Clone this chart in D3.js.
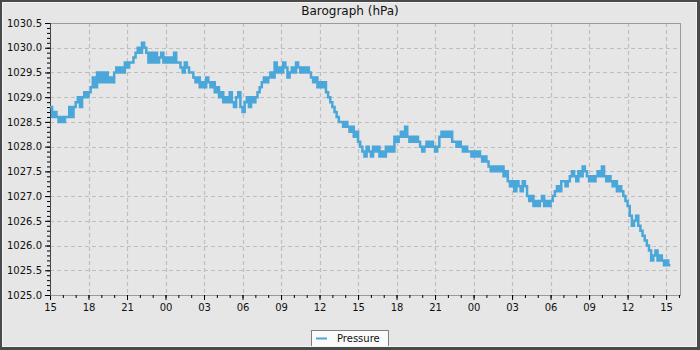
<!DOCTYPE html>
<html>
<head>
<meta charset="utf-8">
<script src="https://cdn.jsdelivr.net/npm/d3@7"></script>
<style>
body { margin: 0; background: #e6e6e6; }
svg { display: block; font-family: "DejaVu Sans", sans-serif; }
</style>
</head>
<body>
<div id="chart"></div>
<script>
// barometer readings, one every 10 minutes from 15:00
let startTime = new Date(2023, 4, 1, 15, 0);
let endTime = new Date(2023, 4, 3, 16, 5);
let stepMinutes = 10;

let pressure = [
    1028.8, 1028.6, 1028.7, 1028.6, 1028.5, 1028.6,   // 15h
    1028.5, 1028.6, 1028.6, 1028.8, 1028.6, 1028.8,
    1028.9, 1029.0, 1028.8, 1029.0, 1029.1, 1029.0,
    1029.1, 1029.2, 1029.4, 1029.2, 1029.5, 1029.3,   // 18h
    1029.5, 1029.3, 1029.5, 1029.3, 1029.4, 1029.3,
    1029.5, 1029.6, 1029.5, 1029.6, 1029.5, 1029.7,
    1029.6, 1029.7, 1029.7, 1029.8, 1029.9, 1030.0,   // 21h
    1029.9, 1030.1, 1030.0, 1029.9, 1029.7, 1029.9,
    1029.7, 1029.9, 1029.7, 1029.8, 1029.9, 1029.7,
    1029.8, 1029.7, 1029.8, 1029.7, 1029.9, 1029.7,   // 00h
    1029.7, 1029.6, 1029.5, 1029.7, 1029.6, 1029.5,
    1029.5, 1029.4, 1029.3, 1029.4, 1029.2, 1029.3,
    1029.2, 1029.4, 1029.3, 1029.2, 1029.3, 1029.1,   // 03h
    1029.2, 1029.0, 1029.1, 1028.9, 1029.0, 1028.9,
    1029.1, 1028.9, 1028.8, 1029.0, 1029.1, 1028.8,
    1028.7, 1028.9, 1029.0, 1028.8, 1029.0, 1028.9,   // 06h
    1029.0, 1029.1, 1029.2, 1029.3, 1029.4, 1029.3,
    1029.4, 1029.5, 1029.4, 1029.7, 1029.5, 1029.6,
    1029.5, 1029.7, 1029.6, 1029.4, 1029.5, 1029.6,   // 09h
    1029.5, 1029.7, 1029.6, 1029.5, 1029.6, 1029.5,
    1029.6, 1029.5, 1029.4, 1029.3, 1029.4, 1029.2,
    1029.3, 1029.2, 1029.3, 1029.1, 1029.0, 1028.9,   // 12h
    1028.8, 1028.7, 1028.6, 1028.5, 1028.5, 1028.4,
    1028.5, 1028.4, 1028.3, 1028.4, 1028.2, 1028.3,
    1028.1, 1028.0, 1027.9, 1027.8, 1028.0, 1027.9,   // 15h
    1027.8, 1028.0, 1027.9, 1028.0, 1027.8, 1027.9,
    1027.8, 1028.0, 1027.9, 1028.0, 1027.9, 1028.2,
    1028.1, 1028.2, 1028.3, 1028.2, 1028.4, 1028.2,   // 18h
    1028.1, 1028.2, 1028.1, 1028.2, 1028.1, 1028.0,
    1027.9, 1028.0, 1028.1, 1028.0, 1028.1, 1028.0,
    1027.9, 1028.0, 1028.2, 1028.3, 1028.2, 1028.3,   // 21h
    1028.2, 1028.3, 1028.1, 1028.1, 1028.0, 1028.1,
    1028.0, 1027.9, 1028.0, 1027.9, 1027.9, 1027.8,
    1027.9, 1027.8, 1027.9, 1027.8, 1027.7, 1027.8,   // 00h
    1027.7, 1027.6, 1027.5, 1027.6, 1027.5, 1027.6,
    1027.5, 1027.6, 1027.4, 1027.5, 1027.3, 1027.2,
    1027.3, 1027.1, 1027.3, 1027.2, 1027.1, 1027.3,   // 03h
    1027.2, 1027.0, 1026.9, 1027.0, 1026.8, 1026.9,
    1026.8, 1026.9, 1027.0, 1026.8, 1026.9, 1026.8,
    1026.9, 1027.0, 1027.1, 1027.2, 1027.1, 1027.3,   // 06h
    1027.3, 1027.2, 1027.3, 1027.4, 1027.5, 1027.4,
    1027.3, 1027.5, 1027.4, 1027.6, 1027.5, 1027.4,
    1027.3, 1027.4, 1027.3, 1027.4, 1027.5, 1027.4,   // 09h
    1027.6, 1027.4, 1027.3, 1027.4, 1027.3, 1027.2,
    1027.3, 1027.1, 1027.2, 1027.1, 1027.0, 1026.9,
    1026.8, 1026.6, 1026.4, 1026.5, 1026.6, 1026.4,   // 12h
    1026.3, 1026.2, 1026.1, 1026.0, 1025.9, 1025.7,
    1025.8, 1025.9, 1025.7, 1025.8, 1025.7, 1025.6,
    1025.7, 1025.6, 1025.6                            // 15h
];

let yTicks = [1025.0, 1025.5, 1026.0, 1026.5, 1027.0, 1027.5, 1028.0, 1028.5, 1029.0, 1029.5, 1030.0, 1030.5];
let chartTitle = "Barograph (hPa)";
let seriesName = "Pressure";

let width = 700,
    height = 350;
let plotLeft = 50, plotRight = 680, plotTop = 23, plotBottom = 295;
let lineColor = "#4ba6d9";
let gridColor = "#bfbfbf";

let data = pressure.map((v, i) => ({
    time: d3.timeMinute.offset(startTime, i * stepMinutes),
    value: v
}));

let svg = d3.select("#chart")
    .append("svg")
    .attr("width", width)
    .attr("height", height);

svg.append("rect")
    .attr("width", width)
    .attr("height", height)
    .style("fill", "#e6e6e6");

let xScale = d3.scaleTime()
    .domain([startTime, endTime])
    .range([plotLeft, plotRight]);

let yScale = d3.scaleLinear()
    .domain([yTicks[0], yTicks[yTicks.length - 1]])
    .range([plotBottom, plotTop]);

// grid
let xMajor = xScale.ticks(d3.timeHour.every(3));

svg.append("g")
    .selectAll("line")
    .data(xMajor.filter(d => xScale(d) > plotLeft + 1))
    .join("line")
    .attr("x1", d => Math.round(xScale(d)) + 0.5)
    .attr("x2", d => Math.round(xScale(d)) + 0.5)
    .attr("y1", plotTop)
    .attr("y2", plotBottom)
    .style("stroke", gridColor)
    .style("stroke-width", 1.2)
    .style("stroke-dasharray", "4,3");

svg.append("g")
    .selectAll("line")
    .data(yTicks.slice(1, -1))
    .join("line")
    .attr("x1", plotLeft)
    .attr("x2", plotRight)
    .attr("y1", d => Math.round(yScale(d)) + 0.5)
    .attr("y2", d => Math.round(yScale(d)) + 0.5)
    .style("stroke", gridColor)
    .style("stroke-width", 1.2)
    .style("stroke-dasharray", "4,3");

// plot frame
svg.append("rect")
    .attr("x", plotLeft + 0.5)
    .attr("y", plotTop + 0.5)
    .attr("width", plotRight - plotLeft)
    .attr("height", plotBottom - plotTop)
    .style("fill", "none")
    .style("stroke", "#9a9a9a");

// axes
let xAxis = d3.axisBottom(xScale)
    .ticks(d3.timeHour.every(3))
    .tickFormat(d3.timeFormat("%H"))
    .tickSize(5)
    .tickPadding(4);

let gx = svg.append("g")
    .attr("transform", "translate(0, " + plotBottom + ")")
    .call(xAxis)
    .attr("font-family", "DejaVu Sans")
    .attr("font-size", 10);
gx.select(".domain").remove();

let gxMinor = svg.append("g")
    .attr("transform", "translate(0, " + plotBottom + ")")
    .call(d3.axisBottom(xScale).ticks(d3.timeHour.every(1)).tickSize(3).tickFormat(""));
gxMinor.select(".domain").remove();

let yAxis = d3.axisLeft(yScale)
    .tickValues(yTicks)
    .tickFormat(d3.format(".1f"))
    .tickSize(5)
    .tickPadding(3);

let gy = svg.append("g")
    .attr("transform", "translate(" + plotLeft + ", 0)")
    .call(yAxis)
    .attr("font-family", "DejaVu Sans")
    .attr("font-size", 10);
gy.select(".domain").remove();

let gyMinor = svg.append("g")
    .attr("transform", "translate(" + plotLeft + ", 0)")
    .call(d3.axisLeft(yScale).ticks(55).tickSize(3).tickFormat(""));
gyMinor.select(".domain").remove();

svg.append("line")
    .attr("x1", plotLeft + 0.5)
    .attr("x2", plotLeft + 0.5)
    .attr("y1", plotTop)
    .attr("y2", plotBottom + 1)
    .style("stroke", "#444");

svg.selectAll(".tick text").style("fill", "#111");

// the pressure line
let line = d3.line()
    .x(d => xScale(d.time))
    .y(d => yScale(d.value))
    .curve(d3.curveStepAfter);

svg.append("path")
    .datum(data)
    .attr("d", line)
    .style("fill", "none")
    .style("stroke", lineColor)
    .style("stroke-width", 2.5);

// title
svg.append("text")
    .attr("x", width / 2)
    .attr("y", 15)
    .attr("text-anchor", "middle")
    .style("font-size", "12px")
    .style("fill", "#111")
    .text(chartTitle);

// legend
let legend = svg.append("g");

legend.append("rect")
    .attr("x", 311.5)
    .attr("y", 330.5)
    .attr("width", 77)
    .attr("height", 18)
    .style("fill", "#fafafa")
    .style("stroke", "#808080");

legend.append("line")
    .attr("x1", 316)
    .attr("x2", 327)
    .attr("y1", 338.5)
    .attr("y2", 338.5)
    .style("stroke", lineColor)
    .style("stroke-width", 2);

legend.append("text")
    .attr("x", 337)
    .attr("y", 342)
    .style("font-size", "10px")
    .style("fill", "#111")
    .text(seriesName);

// outer border
svg.append("path")
    .attr("d", "M0,0H700V350H0Z M2,2V347H697V2Z")
    .style("fill", "#4a4a4a")
    .style("fill-rule", "evenodd");

svg.append("rect")
    .attr("x", 2.5)
    .attr("y", 2.5)
    .attr("width", 694)
    .attr("height", 344)
    .style("fill", "none")
    .style("stroke", "#f4f4f4");
</script>
</body>
</html>
